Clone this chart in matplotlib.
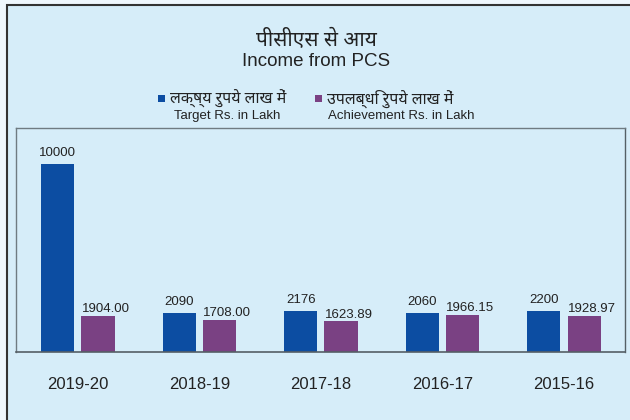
import numpy as np
import matplotlib
matplotlib.use("Agg")
import matplotlib.pyplot as plt
from matplotlib import font_manager
from matplotlib.patches import Rectangle

# data
years = ["2019-20", "2018-19", "2017-18", "2016-17", "2015-16"]
target = [10000, 2090, 2176, 2060, 2200]
achievement = [1904.00, 1708.00, 1623.89, 1966.15, 1928.97]
target_labels = ["10000", "2090", "2176", "2060", "2200"]
achievement_labels = ["1904.00", "1708.00", "1623.89", "1966.15", "1928.97"]

title_hi = "पीसीएस से आय"
title_en = "Income from PCS"
legend_hi = ["लक्ष्य रुपये लाख में", "उपलब्धि रुपये लाख में"]
legend_en = ["Target Rs. in Lakh", "Achievement Rs. in Lakh"]

BLUE = "#0c4da2"
PURPLE = "#7a4183"
BG = "#d6edf9"
FRAME = "#6f7b82"
TXT = "#222222"


# look for an installed font that can draw Devanagari (prefer a bold one)
def find_deva_font():
    from matplotlib.ft2font import FT2Font
    found = []
    for f in font_manager.fontManager.ttflist:
        try:
            if 0x092A in FT2Font(f.fname).get_charmap():
                found.append(f)
        except Exception:
            pass
    if not found:
        return None
    prefs = ["Noto Sans Devanagari", "Mukta", "Hind", "FreeSans", "Lohit Devanagari"]
    for p in prefs:
        for f in found:
            if f.name == p:
                return f.name
    bold = [f for f in found if f.weight in ("bold", 700) or str(f.weight) == "700"]
    return (bold or found)[0].name


deva = find_deva_font()
latin = "Liberation Sans"
hi_family = [deva, latin, "DejaVu Sans"] if deva else [latin, "DejaVu Sans"]
plt.rcParams["font.family"] = [latin, "DejaVu Sans"]

fig = plt.figure(figsize=(6.3, 4.2), dpi=100)
fig.patch.set_facecolor("#eff7fd")

# outer light-blue panel with dark left/top border
fig.patches.append(Rectangle((6.5 / 630, -0.01), 1, 414.5 / 420 + 0.01, transform=fig.transFigure,
                             facecolor=BG, edgecolor="#333333", linewidth=1.5, zorder=-5))

ax = fig.add_axes([15.5 / 630, 68 / 420, 609 / 630, 224 / 420], zorder=2)
ax.set_facecolor(BG)

x = np.arange(len(years))
w = 0.272
off = 0.165
ax.bar(x - off, target, w, color=BLUE, zorder=2)
ax.bar(x + off, achievement, w, color=PURPLE, zorder=2)

for i in range(len(years)):
    ax.annotate(target_labels[i], (x[i] - off, target[i]), xytext=(0, 3.5),
                textcoords="offset points", ha="center", va="bottom",
                fontsize=9.5, color=TXT)
    # achievement labels start at the bar's left edge
    ax.annotate(achievement_labels[i], (x[i] + off - w / 2, achievement[i]), xytext=(0, 0.5),
                textcoords="offset points", ha="left", va="bottom",
                fontsize=9.5, color=TXT)

ax.set_xlim(-0.514, 4.498)
ax.set_ylim(0, 11900)
ax.set_xticks(x)
ax.set_xticklabels(years, fontsize=12, color=TXT)
ax.set_yticks([])
ax.tick_params(axis="x", length=0, pad=18)
for s in ["left", "top", "right"]:
    ax.spines[s].set_color(FRAME)
    ax.spines[s].set_linewidth(1.0)
ax.spines["right"].set_color("#555f66")
ax.spines["bottom"].set_color("#555f66")
ax.spines["bottom"].set_linewidth(1.2)

# titles
fig.text(316 / 630, 1 - 40 / 420, title_hi, ha="center", va="center", fontsize=15,
         fontweight="bold", color=TXT, family=hi_family)
fig.text(316 / 630, 1 - 61.5 / 420, title_en, ha="center", va="center", fontsize=13.5,
         color=TXT)

# legend
fig.patches.append(Rectangle((158 / 630, 1 - 102 / 420), 7 / 630, 7 / 420,
                             transform=fig.transFigure, facecolor=BLUE, edgecolor="none"))
fig.patches.append(Rectangle((315 / 630, 1 - 102 / 420), 7 / 630, 7 / 420,
                             transform=fig.transFigure, facecolor=PURPLE, edgecolor="none"))
fig.text(170 / 630, 1 - 99 / 420, legend_hi[0], ha="left", va="center", fontsize=11.5,
         fontweight="bold", color=TXT, family=hi_family)
fig.text(327 / 630, 1 - 99 / 420, legend_hi[1], ha="left", va="center", fontsize=11.5,
         fontweight="bold", color=TXT, family=hi_family)
fig.text(174 / 630, 1 - 116 / 420, legend_en[0], ha="left", va="center", fontsize=9.5,
         color=TXT)
fig.text(328 / 630, 1 - 116 / 420, legend_en[1], ha="left", va="center", fontsize=9.5,
         color=TXT)

fig.savefig("out.png", dpi=100, facecolor=fig.get_facecolor())
